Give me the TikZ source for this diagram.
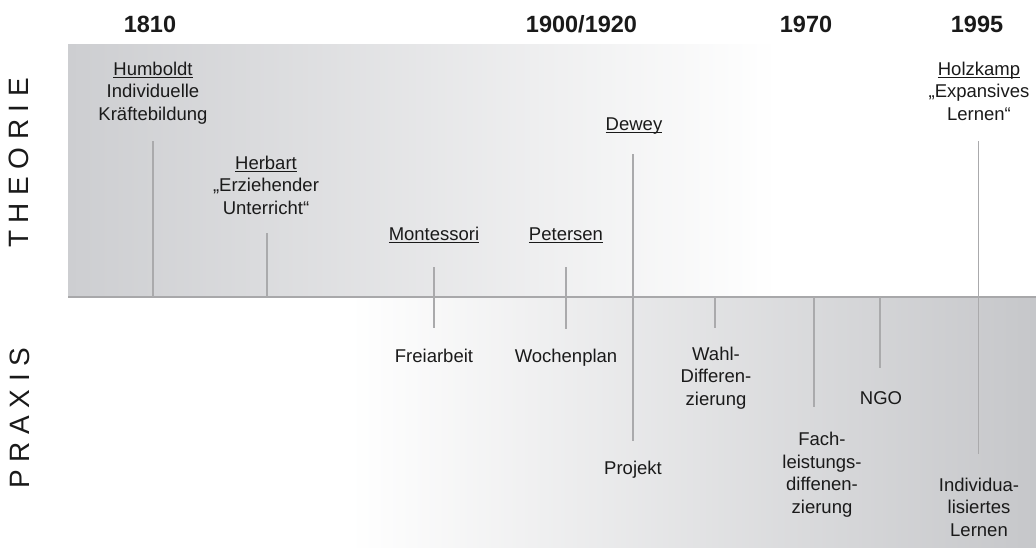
\documentclass[tikz,border=0pt]{standalone}
\usepackage{fontspec}
\setmainfont{Liberation Sans}
\definecolor{tgray}{RGB}{205,206,209}
\definecolor{bgray}{RGB}{198,199,202}
\definecolor{lgray}{RGB}{170,170,172}
\definecolor{agray}{RGB}{168,168,170}
\definecolor{txt}{RGB}{26,26,26}
\newcommand\ulword[1]{\setbox0\hbox{#1}\rlap{\rule[-2.6pt]{\wd0}{1.1pt}}\box0}
\begin{document}
\begin{tikzpicture}[x=1pt,y=-1pt,
  lbl/.style={align=center, font=\fontsize{18.5}{22.5}\selectfont, text=txt, inner sep=0pt, anchor=base},
  yr/.style={font=\fontsize{23.5}{28}\selectfont\bfseries, text=txt, inner sep=0pt, anchor=base},
  side/.style={font=\fontsize{28}{30}\selectfont\addfontfeature{LetterSpace=27}, text=txt, rotate=90, anchor=base, inner sep=0pt},
  vline/.style={draw=lgray, line width=1.3pt},
  axisline/.style={draw=agray, line width=2pt}]
\useasboundingbox (0,0) rectangle (1036,547);
% backgrounds
\shade[left color=tgray, right color=white] (68,44) rectangle (778,297);
\shade[left color=white, right color=bgray] (350,297) rectangle (1036,547);
% axis
\coordinate (axL) at (68,297);
\coordinate (axR) at (1036,297);
\draw[axisline] (axL) -- (axR);
% side labels
\node[side] (theorie) at (28,163) {THEORIE};
\node[side] (praxis) at (29,418) {PRAXIS};
% years
\node[yr] (y1810) at (150,32) {1810};
\node[yr] (y1900) at (581.5,32) {1900/1920};
\node[yr] (y1970) at (806,32) {1970};
\node[yr] (y1995) at (977,32) {1995};
% theory labels (base anchor = baseline of last line)
\node[lbl] (hum) at (153,120) {\ulword{Humboldt}\\Individuelle\\Kräftebildung};
\node[lbl] (her) at (266,214) {\ulword{Herbart}\\„Erziehender\\Unterricht“};
\node[lbl] (mon) at (434,240) {\ulword{Montessori}};
\node[lbl] (pet) at (566,240) {\ulword{Petersen}};
\node[lbl] (dew) at (634,130) {\ulword{Dewey}};
\node[lbl] (hol) at (979,120) {\ulword{Holzkamp}\\„Expansives\\Lernen“};
% practice labels
\node[lbl] (frei) at (434,362) {Freiarbeit};
\node[lbl] (woch) at (566,362) {Wochenplan};
\node[lbl] (proj) at (633,474) {Projekt};
\node[lbl] (wahl) at (716,405) {Wahl-\\Differen-\\zierung};
\node[lbl] (ngo) at (881,404) {NGO};
\node[lbl] (fach) at (822,513) {Fach-\\leistungs-\\diffenen-\\zierung};
\node[lbl] (indiv) at (979,536) {Individua-\\lisiertes\\Lernen};
% line end points
\coordinate (humT) at (153,141);   \coordinate (humB) at (153,297);
\coordinate (herT) at (267,233);   \coordinate (herB) at (267,297);
\coordinate (monT) at (434,267);   \coordinate (monB) at (434,328);
\coordinate (petT) at (566,267);   \coordinate (petB) at (566,329);
\coordinate (dewT) at (633,154);   \coordinate (dewB) at (633,441);
\coordinate (wahlT) at (715,297);  \coordinate (wahlB) at (715,328);
\coordinate (fachT) at (814,297);  \coordinate (fachB) at (814,407);
\coordinate (ngoT) at (880,297);   \coordinate (ngoB) at (880,368);
\coordinate (holT) at (978.5,141); \coordinate (holB) at (978.5,454);
\draw[vline] (humT) -- (humB);
\draw[vline] (herT) -- (herB);
\draw[vline] (monT) -- (monB);
\draw[vline] (petT) -- (petB);
\draw[vline] (dewT) -- (dewB);
\draw[vline] (wahlT) -- (wahlB);
\draw[vline] (fachT) -- (fachB);
\draw[vline] (ngoT) -- (ngoB);
\draw[vline] (holT) -- (holB);
\end{tikzpicture}
\end{document}
